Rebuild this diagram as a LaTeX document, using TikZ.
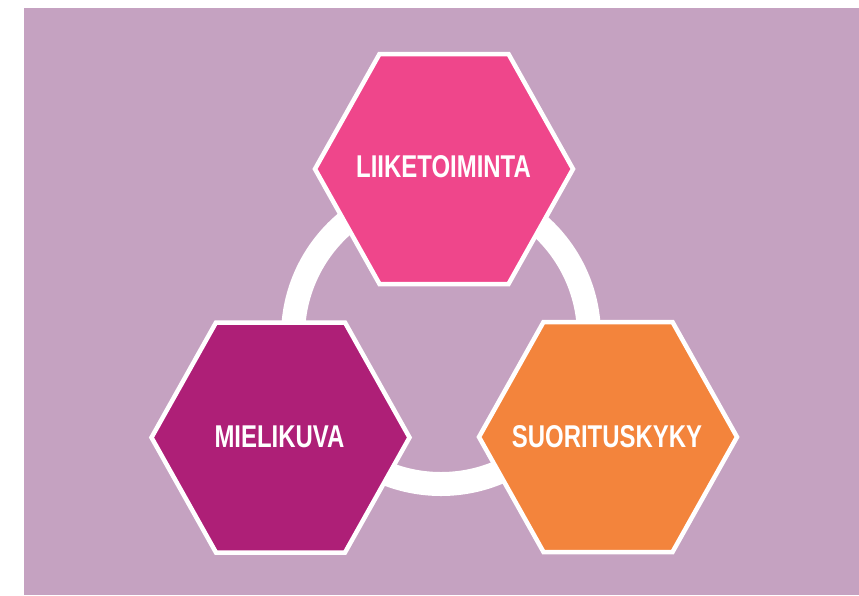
\documentclass[tikz,border=0pt]{standalone}
\usepackage{fontspec}
\newfontfamily\labfont[FakeStretch=0.76]{Liberation Sans}
\definecolor{bgpurple}{HTML}{C5A2C1}
\definecolor{hexpink}{HTML}{EF468B}
\definecolor{hexmagenta}{HTML}{AE1F77}
\definecolor{hexorange}{HTML}{F3843C}
\begin{document}
\begin{tikzpicture}[x=1pt,y=-1pt,
  hexagonbox/.style={draw=white,line width=4.5pt,line join=miter},
  hexlabel/.style={text=white,font=\labfont\bfseries\fontsize{31.5}{33}\selectfont,inner sep=0pt}]
\fill[white] (0,0) rectangle (859,595);
\useasboundingbox (0,0) rectangle (859,595);
\fill[bgpurple] (24,8) rectangle (859,595);
% ring
\coordinate (ringc) at (441,336);
\draw[white,line width=24pt] (ringc) circle[radius=148];
% hexagons
\foreach \nm/\cx/\cy/\col in {top/444/169/hexpink, left/280.5/437.5/hexmagenta, right/608/437/hexorange}{
  \filldraw[hexagonbox,fill=\col] (\cx-129,\cy) -- (\cx-64.5,\cy-115) -- (\cx+64.5,\cy-115)
    -- (\cx+129,\cy) -- (\cx+64.5,\cy+115) -- (\cx-64.5,\cy+115) -- cycle;
}
\node[hexlabel] (liike) at (443.5,167) {LIIKETOIMINTA};
\node[hexlabel] (mieli) at (279.5,437) {MIELIKUVA};
\node[hexlabel] (suori) at (607,437) {SUORITUSKYKY};
\end{tikzpicture}
\end{document}
